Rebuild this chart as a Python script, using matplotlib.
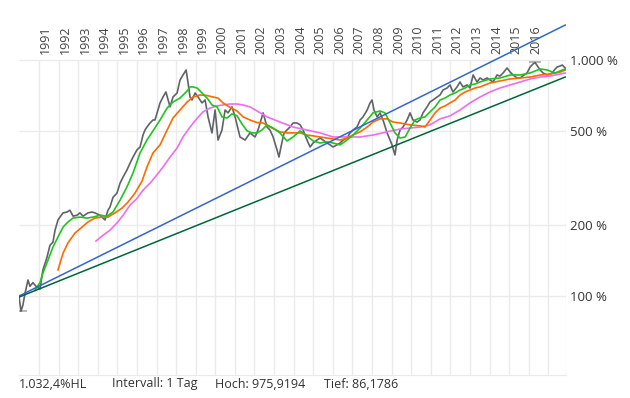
import numpy as np
import matplotlib
matplotlib.use('Agg')
import matplotlib.pyplot as plt
import matplotlib.transforms as transforms

plt.rcParams['font.family'] = ['Open Sans', 'DejaVu Sans']

# price series in % (start = 100), time in decimal years
price_t = [1989.98, 1990.08, 1990.18, 1990.29, 1990.44, 1990.54, 1990.69, 1990.85, 1991.05, 1991.20,
           1991.41, 1991.56, 1991.71, 1991.82, 1991.97, 1992.07, 1992.23, 1992.43, 1992.58, 1992.74,
           1992.94, 1993.09, 1993.25, 1993.50, 1993.71, 1993.86, 1994.11, 1994.37, 1994.52, 1994.62,
           1994.78, 1994.98, 1995.14, 1995.29, 1995.49, 1995.65, 1995.80, 1996.00, 1996.16, 1996.31,
           1996.41, 1996.51, 1996.67, 1996.82, 1996.92, 1997.07, 1997.18, 1997.33, 1997.48, 1997.59,
           1997.69, 1997.84, 1998.05, 1998.20, 1998.35, 1998.51, 1998.61, 1998.71, 1998.81, 1998.97,
           1999.12, 1999.32, 1999.48, 1999.63, 1999.83, 1999.99, 2000.14, 2000.34, 2000.50, 2000.65,
           2000.85, 2001.01, 2001.26, 2001.52, 2001.77, 2002.03, 2002.18, 2002.44, 2002.64, 2002.79,
           2002.95, 2003.15, 2003.25, 2003.35, 2003.51, 2003.66, 2003.81, 2003.97, 2004.17, 2004.33,
           2004.48, 2004.68, 2004.84, 2004.99, 2005.19, 2005.35, 2005.50, 2005.70, 2005.86, 2006.01,
           2006.21, 2006.37, 2006.52, 2006.72, 2006.88, 2007.03, 2007.23, 2007.39, 2007.54, 2007.75,
           2007.90, 2008.00, 2008.10, 2008.26, 2008.41, 2008.56, 2008.77, 2008.92, 2009.02, 2009.17,
           2009.28, 2009.43, 2009.58, 2009.79, 2009.94, 2010.09, 2010.30, 2010.45, 2010.60, 2010.81,
           2010.96, 2011.11, 2011.32, 2011.47, 2011.62, 2011.83, 2011.98, 2012.13, 2012.34, 2012.49,
           2012.64, 2012.85, 2013.00, 2013.16, 2013.36, 2013.51, 2013.67, 2013.87, 2014.02, 2014.18,
           2014.38, 2014.53, 2014.69, 2014.89, 2015.05, 2015.20, 2015.40, 2015.56, 2015.76, 2015.91,
           2016.07, 2016.22, 2016.32, 2016.48, 2016.58, 2016.73, 2016.94, 2017.09, 2017.19, 2017.35,
           2017.45, 2017.60, 2017.71, 2017.86]
price_v = [100, 86.1786, 91.6, 103, 117, 110, 114, 110, 107, 129,
           146, 164, 169, 190, 210, 216, 225, 227, 231, 218,
           220, 225, 218, 225, 227, 225, 220, 210, 231, 238,
           262, 273, 301, 319, 342, 366, 388, 416, 428, 481,
           505, 520, 541, 557, 557, 614, 658, 697, 732, 677,
           633, 697, 725, 823, 864, 907, 799, 697, 677, 725,
           697, 658, 677, 574, 491, 614, 458, 505, 614, 597,
           633, 574, 472, 458, 491, 472, 505, 597, 520, 505,
           472, 416, 388, 428, 491, 505, 520, 541, 541, 531,
           505, 458, 428, 445, 458, 467, 458, 445, 437, 428,
           437, 445, 458, 467, 491, 505, 520, 557, 574, 614,
           658, 677, 614, 574, 597, 557, 491, 458, 437, 396,
           458, 505, 520, 557, 597, 557, 546, 557, 597, 633,
           664, 677, 697, 711, 746, 761, 784, 732, 769, 807,
           769, 784, 761, 864, 807, 839, 823, 839, 823, 807,
           864, 855, 881, 925, 889, 864, 839, 839, 864, 881,
           934, 962, 975.9194, 934, 907, 881, 864, 872, 881, 916,
           934, 943, 952, 925]

# green moving average
green_t = [1990.80, 1991.05, 1991.20, 1991.46, 1991.71, 1991.97, 1992.23, 1992.48, 1992.74, 1993.09,
           1993.45, 1993.76, 1994.11, 1994.47, 1994.78, 1995.14, 1995.49, 1995.80, 1996.16, 1996.51,
           1996.82, 1997.18, 1997.54, 1997.84, 1998.20, 1998.56, 1998.71, 1998.86, 1999.07, 1999.32,
           1999.58, 1999.83, 2000.09, 2000.34, 2000.60, 2000.85, 2001.11, 2001.36, 2001.62, 2001.87,
           2002.13, 2002.38, 2002.64, 2002.95, 2003.30, 2003.66, 2003.97, 2004.33, 2004.68, 2004.99,
           2005.35, 2005.70, 2006.01, 2006.37, 2006.72, 2007.03, 2007.39, 2007.75, 2008.05, 2008.41,
           2008.66, 2008.92, 2009.17, 2009.43, 2009.69, 2009.94, 2010.19, 2010.45, 2010.70, 2010.96,
           2011.22, 2011.47, 2011.73, 2011.98, 2012.24, 2012.49, 2012.75, 2013.00, 2013.26, 2013.51,
           2014.02, 2014.53, 2015.05, 2015.56, 2016.07, 2016.58, 2016.94, 2017.35, 2017.71, 2017.86]
green_v = [106, 114, 125, 142, 161, 178, 196, 206, 214, 216,
           214, 216, 220, 218, 227, 255, 290, 332, 404, 458,
           501, 557, 626, 664, 690, 739, 769, 769, 761, 725,
           690, 645, 633, 574, 568, 591, 580, 536, 501, 491,
           491, 505, 531, 515, 491, 454, 472, 501, 477, 454,
           445, 450, 445, 437, 458, 481, 515, 557, 597, 608,
           597, 541, 491, 467, 472, 515, 557, 568, 574, 603,
           633, 677, 690, 711, 725, 746, 761, 784, 791, 807,
           831, 839, 864, 864, 881, 916, 907, 881, 907, 916]

# orange moving average
orange_t = [1991.97, 1992.23, 1992.48, 1992.84, 1993.20, 1993.50, 1993.86, 1994.22, 1994.52, 1994.88,
            1995.24, 1995.54, 1995.90, 1996.26, 1996.51, 1996.82, 1997.18, 1997.54, 1997.84, 1998.20,
            1998.56, 1998.86, 1999.22, 1999.58, 1999.88, 2000.14, 2000.39, 2000.75, 2001.11, 2001.42,
            2001.77, 2002.13, 2002.44, 2002.79, 2003.30, 2003.66, 2003.97, 2004.33, 2004.68, 2004.99,
            2005.35, 2005.70, 2006.01, 2006.37, 2006.72, 2007.03, 2007.39, 2007.75, 2008.05, 2008.41,
            2008.77, 2009.07, 2009.43, 2009.94, 2010.45, 2010.70, 2010.96, 2011.22, 2011.47, 2011.73,
            2011.98, 2012.24, 2012.49, 2012.75, 2013.00, 2013.26, 2013.51, 2014.02, 2014.53, 2015.05,
            2015.56, 2016.07, 2016.58, 2017.09, 2017.60, 2017.86]
orange_v = [129, 152, 168, 185, 196, 206, 214, 216, 216, 225,
            236, 250, 273, 307, 352, 404, 437, 505, 568, 614,
            664, 697, 711, 707, 697, 690, 658, 630, 608, 574,
            557, 543, 541, 520, 496, 491, 491, 491, 481, 477,
            472, 467, 463, 458, 467, 481, 496, 520, 546, 563,
            563, 546, 541, 531, 526, 520, 557, 597, 626, 639,
            658, 677, 711, 732, 746, 761, 769, 799, 815, 831,
            839, 847, 864, 872, 889, 907]

# magenta moving average
magenta_t = [1993.91, 1994.27, 1994.62, 1994.98, 1995.29, 1995.65, 1996.00, 1996.31, 1996.67, 1997.02,
             1997.33, 1997.69, 1998.05, 1998.35, 1998.71, 1999.07, 1999.37, 1999.73, 2000.09, 2000.39,
             2000.75, 2001.11, 2001.42, 2001.77, 2002.13, 2002.64, 2003.30, 2003.97, 2004.68, 2005.35,
             2006.01, 2006.72, 2007.39, 2008.05, 2008.77, 2009.43, 2009.94, 2010.45, 2010.96, 2011.47,
             2011.98, 2012.49, 2013.00, 2013.51, 2014.02, 2014.53, 2015.05, 2015.56, 2016.07, 2016.58,
             2017.09, 2017.60, 2017.86]
magenta_v = [171, 181, 190, 204, 220, 243, 259, 281, 301, 326,
             352, 388, 424, 472, 520, 566, 603, 626, 639, 645,
             651, 651, 645, 633, 608, 574, 546, 520, 505, 491,
             472, 472, 472, 481, 496, 510, 515, 520, 531, 563,
             580, 614, 658, 697, 732, 761, 784, 807, 831, 847,
             855, 872, 881]

# trend lines (start, end)
trend_t = [1989.98, 2017.86]
blue_v = [100, 1406]
dkgreen_v = [99, 847]

years = list(range(1991, 2018))
year_labels = [str(y) for y in range(1991, 2017)]
ytick_vals = [100, 200, 500, 1000]
ytick_labels = ['100 %', '200 %', '500 %', '1.000 %']

hoch = 975.9194
tief = 86.1786
info = ['1.032,4%HL', 'Intervall: 1 Tag', 'Hoch: 975,9194', 'Tief: 86,1786']
info_x = [19, 112, 215, 324]

W, H = 630, 398
fig = plt.figure(figsize=(W / 100, H / 100), dpi=100)
ax = fig.add_axes([19 / W, (H - 375) / H, (566 - 19) / W, (375 - 15) / H])
ax.set_yscale('log')
ax.set_xlim(1989.98, 2017.90)
ax.set_ylim(46.3, 1551)

grid_c = '#ebebeb'
ax.vlines(years, 46.3, 1000, color=grid_c, lw=1, zorder=0)
ax.vlines([2017.88], 46.3, 1551, color=grid_c, lw=1, zorder=0)
ax.hlines(ytick_vals, 1989.98, 2017.90, color=grid_c, lw=1, zorder=0)

ax.plot(price_t, price_v, color='#5f6368', lw=1.2, zorder=2)
ax.plot(magenta_t, magenta_v, color='#f06cf0', lw=1.2, zorder=3)
ax.plot(orange_t, orange_v, color='#ff6a00', lw=1.2, zorder=3)
ax.plot(green_t, green_v, color='#1fc41f', lw=1.2, zorder=3)
ax.plot(trend_t, blue_v, color='#3366cc', lw=1.1, zorder=4)
ax.plot(trend_t, dkgreen_v, color='#00663a', lw=1.1, zorder=4)

# high / low markers
i_hi = int(np.argmax(price_v))
i_lo = int(np.argmin(price_v))
ax.hlines(hoch, price_t[i_hi] - 0.3, price_t[i_hi] + 0.3, color='#aaaaaa', lw=1.2, zorder=1)
ax.hlines(tief, price_t[i_lo] - 0.3, price_t[i_lo] + 0.3, color='#aaaaaa', lw=1.2, zorder=1)

for s in ['top', 'left', 'right']:
    ax.spines[s].set_visible(False)
ax.spines['bottom'].set_color(grid_c)
ax.set_xticks([])
ax.yaxis.tick_right()
ax.set_yticks(ytick_vals)
ax.set_yticklabels(ytick_labels, fontsize=9.5, color='#333333')
ax.yaxis.set_minor_locator(matplotlib.ticker.NullLocator())
ax.tick_params(axis='y', length=0, pad=3)

trans = transforms.blended_transform_factory(ax.transData, ax.transAxes)
for y, lab in zip(years, year_labels):
    ax.text(y + 0.02, (375 - 54) / 360, lab, transform=trans, rotation=90,
            ha='left', va='bottom', fontsize=9, color='#444444')

for s, x in zip(info, info_x):
    fig.text(x / W, 1 - 384 / H, s, ha='left', va='center', fontsize=9, color='#333333')

fig.savefig('out.png', dpi=100)
